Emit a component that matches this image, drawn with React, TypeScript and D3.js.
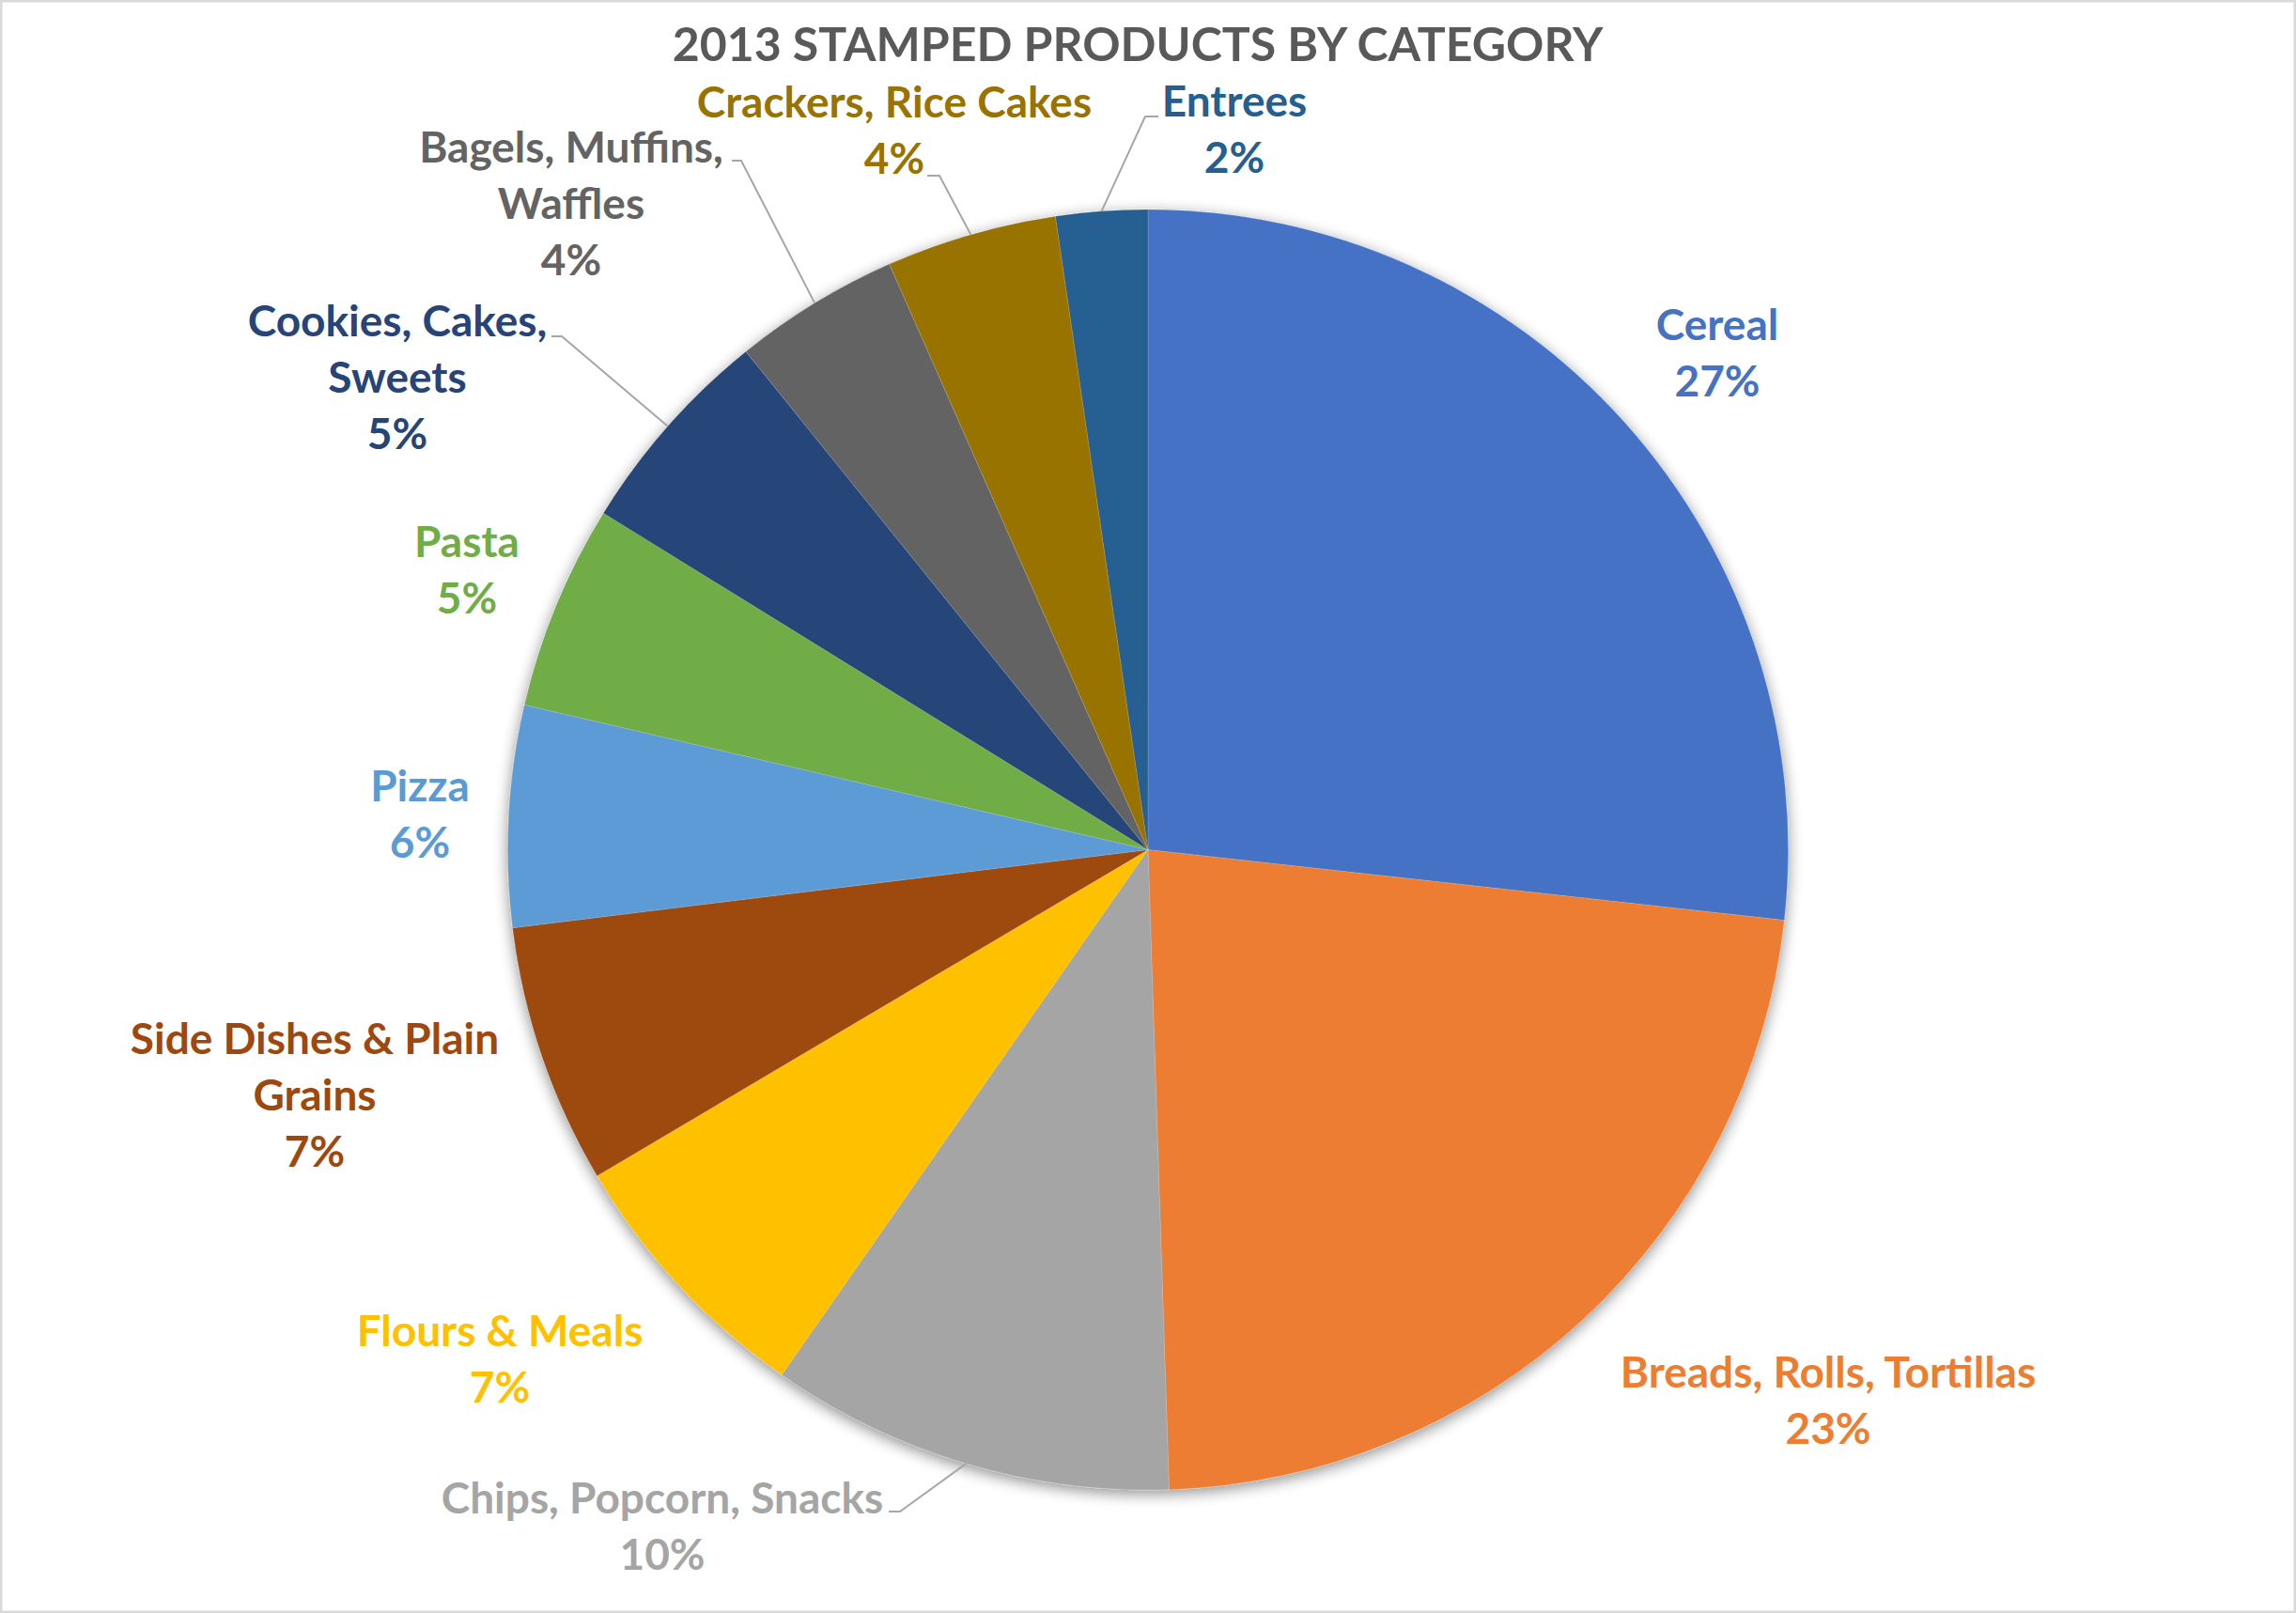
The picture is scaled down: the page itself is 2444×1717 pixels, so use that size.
import React from "react";
import * as d3 from "d3";

const W = 2444;
const H = 1717;

const title = "2013 STAMPED PRODUCTS BY CATEGORY";
const categories = [
  "Cereal",
  "Breads, Rolls, Tortillas",
  "Chips, Popcorn, Snacks",
  "Flours & Meals",
  "Side Dishes & Plain Grains",
  "Pizza",
  "Pasta",
  "Cookies, Cakes, Sweets",
  "Bagels, Muffins, Waffles",
  "Crackers, Rice Cakes",
  "Entrees",
];
const values = [26.76, 22.72, 10.22, 6.8, 6.56, 5.58, 5.18, 5.38, 4.19, 4.31, 2.31];
const colors = [
  "#4472C4",
  "#ED7D31",
  "#A5A5A5",
  "#FFC000",
  "#9E480E",
  "#5B9BD5",
  "#70AD47",
  "#264478",
  "#636363",
  "#997300",
  "#255E91",
];
const labelLines = [
  ["Cereal"],
  ["Breads, Rolls, Tortillas"],
  ["Chips, Popcorn, Snacks"],
  ["Flours & Meals"],
  ["Side Dishes & Plain", "Grains"],
  ["Pizza"],
  ["Pasta"],
  ["Cookies, Cakes,", "Sweets"],
  ["Bagels, Muffins,", "Waffles"],
  ["Crackers, Rice Cakes"],
  ["Entrees"],
];

// layout (label anchor = center of first baseline)
const labelPos: [number, number][] = [
  [1828, 362],
  [1946, 1477],
  [705, 1611],
  [532, 1433],
  [335, 1122],
  [447, 853],
  [497, 593],
  [423, 358],
  [608, 173],
  [952, 125],
  [1314, 124],
];
// leader: [elbowX, endX, y]
const leaders: ([number, number, number] | null)[] = [
  null,
  null,
  [958, 946, 1609],
  null,
  null,
  null,
  null,
  [598, 587, 358],
  [789, 779, 171],
  [1000, 987, 187],
  [1219, 1233, 124],
];

const CX = 1222;
const CY = 904.5;
const R = 681.5;
const FONT = "Lato, 'Open Sans', sans-serif";
const LINE_H = 60;

export default function App() {
  const total = d3.sum(values);
  const pie = d3
    .pie<number>()
    .sort(null)
    .value((d) => d)
    .startAngle(0)
    .endAngle(2 * Math.PI);
  const arcs = pie(values);
  const arcGen = d3.arc<d3.PieArcDatum<number>>().innerRadius(0).outerRadius(R);
  const pct = d3.format(".0%");

  return (
    <svg
      width={W}
      height={H}
      style={{ position: "absolute", left: 0, top: 0, background: "#fff" }}
    >
      <defs>
        <filter id="pieShadow" x="-10%" y="-10%" width="120%" height="120%">
          <feGaussianBlur in="SourceAlpha" stdDeviation="8" />
          <feOffset dx="0" dy="4" result="ob" />
          <feComponentTransfer>
            <feFuncA type="linear" slope="0.45" />
          </feComponentTransfer>
          <feMerge>
            <feMergeNode />
            <feMergeNode in="SourceGraphic" />
          </feMerge>
        </filter>
      </defs>
      <rect x={1} y={1} width={W - 2} height={H - 2} fill="#fff" stroke="#D9D9D9" strokeWidth={3} />
      <text
        x={1211}
        y={65}
        textAnchor="middle"
        fontFamily={FONT}
        fontWeight="bold"
        fontSize={50}
        fill="#595959"
      >
        {title}
      </text>
      <g transform={`translate(${CX},${CY})`} filter="url(#pieShadow)">
        {arcs.map((a, i) => (
          <path
            key={categories[i]}
            d={arcGen(a) || ""}
            fill={colors[i]}
            stroke="#ffffff"
            strokeOpacity={0.15}
            strokeWidth={1}
          />
        ))}
      </g>
      {arcs.map((a, i) => {
        const ld = leaders[i];
        if (!ld) return null;
        const mid = (a.startAngle + a.endAngle) / 2;
        const px = CX + R * Math.sin(mid);
        const py = CY - R * Math.cos(mid);
        return (
          <polyline
            key={"l" + i}
            points={`${px},${py} ${ld[0]},${ld[2]} ${ld[1]},${ld[2]}`}
            fill="none"
            stroke="#A6A6A6"
            strokeWidth={2}
          />
        );
      })}
      {arcs.map((a, i) => {
        const [x, y] = labelPos[i];
        const lines = [...labelLines[i], pct(values[i] / total)];
        return (
          <text
            key={"t" + i}
            x={x}
            y={y}
            textAnchor="middle"
            fontFamily={FONT}
            fontWeight="bold"
            fontSize={46}
            fill={colors[i]}
          >
            {lines.map((ln, j) => (
              <tspan key={j} x={x} y={y + j * LINE_H}>
                {ln}
              </tspan>
            ))}
          </text>
        );
      })}
    </svg>
  );
}
